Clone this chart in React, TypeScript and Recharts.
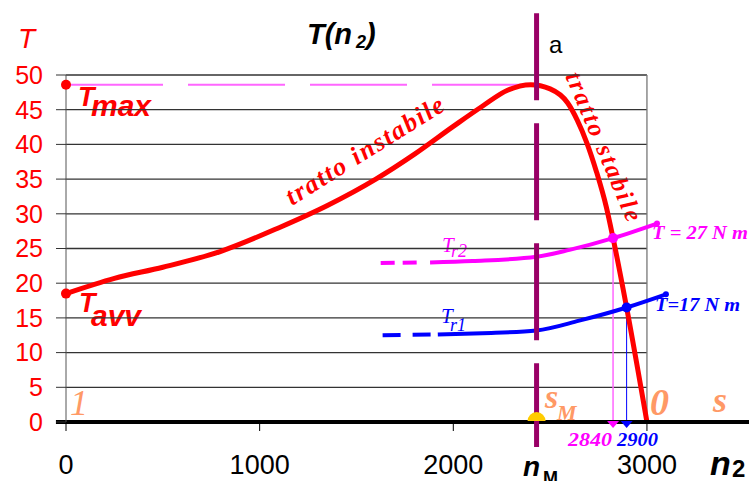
import React from "react";
import {
  ComposedChart,
  Line,
  XAxis,
  YAxis,
  ReferenceLine,
  ReferenceDot,
} from "recharts";

// torque curve T(n2)
const curveN = [0, 250, 500, 800, 1100, 1350, 1600, 1800, 2000, 2150, 2280, 2400, 2500, 2590, 2640, 2690, 2740, 2790, 2825, 2895, 3000];
const curveT = [18.5, 20.7, 22.3, 24.6, 28.0, 31.2, 35.0, 38.6, 42.6, 45.5, 47.8, 48.6, 48.0, 46.0, 43.5, 40.2, 36.0, 31.0, 26.5, 16.5, 0];

// load torque Tr2 (27 N m)
const tr2DashN = [1625, 1840];
const tr2DashT = [22.9, 23.0];
const tr2N = [1880, 2100, 2430, 2600, 2825, 3052];
const tr2T = [23.0, 23.2, 23.8, 24.8, 26.5, 28.6];

// load torque Tr1 (17 N m)
const tr1DashN = [1635, 1890];
const tr1DashT = [12.5, 12.6];
const tr1N = [1920, 2150, 2430, 2650, 2895, 3098];
const tr1T = [12.6, 12.8, 13.2, 14.6, 16.5, 18.4];

const xTicks = [0, 1000, 2000, 3000];
const yTicks = [0, 5, 10, 15, 20, 25, 30, 35, 40, 45, 50];
const gridValues = [5, 10, 15, 20, 25, 30, 35, 40, 45, 50];

const tMax = 48.6;
const tAvv = 18.5;
const nM = 2430;
const n2840 = 2825;
const n2900 = 2895;

const zip = (ns: number[], ts: number[]) => ns.map((n, i) => ({ n, t: ts[i] }));

const RED = "#ff0000";
const MAGENTA = "#ff00ff";
const LIGHT_MAGENTA = "#ff66ff";
const BLUE = "#0000ff";
const PURPLE = "#990066";
const ORANGE = "#ff9966";
const SANS = "'Liberation Sans', Arial, sans-serif";
const SERIF = "'Liberation Serif', 'Times New Roman', serif";

const halfDisc = (p: any) => (
  <path d={`M${p.cx - 9},${p.cy - 1} A9 9 0 0 1 ${p.cx + 9},${p.cy - 1} Z`} fill="#ffcc00" />
);
const downTriangle = (color: string) => (p: any) => (
  <path d={`M${p.cx - 6},${p.cy - 1} L${p.cx + 6},${p.cy - 1} L${p.cx},${p.cy + 6} Z`} fill={color} />
);

export default function App() {
  return (
    <div style={{ position: "fixed", left: 0, top: 0, width: 749, height: 481, background: "#fff" }}>
      <ComposedChart width={749} height={481} margin={{ top: 75, right: 0, bottom: 0, left: 0 }}>
        <XAxis
          type="number"
          dataKey="n"
          domain={[0, 3527]}
          ticks={xTicks}
          interval={0}
          allowDataOverflow
          axisLine={false}
          tickSize={9}
          tickMargin={24}
          tickLine={{ stroke: "#000" }}
          height={59}
          tick={{ fill: "#000", fontSize: 27, fontFamily: SANS }}
        />
        <YAxis
          type="number"
          domain={[0, 50]}
          ticks={yTicks}
          interval={0}
          width={66}
          tickSize={10}
          tickMargin={13}
          axisLine={{ stroke: "#555" }}
          tickLine={{ stroke: "#333" }}
          tick={{ fill: RED, fontSize: 25, fontFamily: SANS }}
        />
        {gridValues.map((v) => (
          <ReferenceLine
            key={v}
            segment={[{ x: 0, y: v }, { x: 3000, y: v }]}
            stroke="#333"
            strokeWidth={1.3}
            ifOverflow="visible"
          />
        ))}
        <ReferenceLine segment={[{ x: 3000, y: 0 }, { x: 3000, y: 50 }]} stroke="#777" strokeWidth={1.3} ifOverflow="visible" />
        <ReferenceLine
          segment={[{ x: 0, y: tMax }, { x: 2400, y: tMax }]}
          stroke={LIGHT_MAGENTA}
          strokeWidth={2}
          strokeDasharray="97 25"
          ifOverflow="visible"
        />
        <ReferenceLine segment={[{ x: n2840, y: 0 }, { x: n2840, y: 26.5 }]} stroke={LIGHT_MAGENTA} strokeWidth={1.5} ifOverflow="visible" />
        <ReferenceLine segment={[{ x: n2900, y: 0 }, { x: n2900, y: 16.5 }]} stroke={BLUE} strokeWidth={1} ifOverflow="visible" />

        <Line data={zip(tr2DashN, tr2DashT)} dataKey="t" type="linear" stroke={MAGENTA} strokeWidth={4} strokeDasharray="14 8" dot={false} isAnimationActive={false} />
        <Line data={zip(tr2N, tr2T)} dataKey="t" type="monotone" stroke={MAGENTA} strokeWidth={4} dot={false} isAnimationActive={false} />
        <Line data={zip(tr1DashN, tr1DashT)} dataKey="t" type="linear" stroke={BLUE} strokeWidth={4} strokeDasharray="18 12" dot={false} isAnimationActive={false} />
        <Line data={zip(tr1N, tr1T)} dataKey="t" type="monotone" stroke={BLUE} strokeWidth={4} dot={false} isAnimationActive={false} />
        <Line data={zip(curveN, curveT)} dataKey="t" type="monotone" stroke={RED} strokeWidth={5} dot={false} isAnimationActive={false} />

        <ReferenceLine segment={[{ x: -52, y: 0 }, { x: 3527, y: 0 }]} stroke="#000" strokeWidth={4} ifOverflow="visible" />
        <ReferenceLine
          segment={[{ x: nM, y: 58.9 }, { x: nM, y: -3.6 }]}
          stroke={PURPLE}
          strokeWidth={5}
          strokeDasharray="97 23"
          strokeDashoffset={10}
          ifOverflow="visible"
        />
        <ReferenceDot x={nM} y={0} r={9} shape={halfDisc} ifOverflow="visible" />
        <ReferenceDot x={n2840} y={0} r={6} shape={downTriangle(MAGENTA)} ifOverflow="visible" />
        <ReferenceDot x={n2900} y={0} r={6} shape={downTriangle(BLUE)} ifOverflow="visible" />
        <ReferenceDot x={0} y={tMax} r={5} fill={RED} stroke="none" ifOverflow="visible" />
        <ReferenceDot x={0} y={tAvv} r={5} fill={RED} stroke="none" ifOverflow="visible" />
        <ReferenceDot x={n2840} y={26.5} r={5} fill={MAGENTA} stroke="none" ifOverflow="visible" />
        <ReferenceDot x={n2900} y={16.5} r={5} fill={BLUE} stroke="none" ifOverflow="visible" />
        <ReferenceDot x={3052} y={28.6} r={3} fill={MAGENTA} stroke="none" ifOverflow="visible" />
        <ReferenceDot x={3098} y={18.4} r={3} fill={BLUE} stroke="none" ifOverflow="visible" />

        {/* titles and annotations */}
        <text x={18} y={48} fill={RED} fontSize={28} fontStyle="italic" fontFamily={SANS}>T</text>
        <text x={307} y={44} fill="#000" fontSize={29} fontStyle="italic" fontWeight="bold" fontFamily={SANS}>
          T(n<tspan fontSize={18} dx={4} dy={4}>2</tspan><tspan dy={-4}>)</tspan>
        </text>
        <text x={549} y={53} fill="#000" fontSize={24} fontFamily={SANS}>a</text>

        <text fill={RED} fontStyle="italic" fontWeight="bold" fontFamily={SANS}>
          <tspan x={78} y={106} fontSize={27}>T</tspan>
          <tspan x={91} y={116} fontSize={30}>max</tspan>
        </text>
        <text fill={RED} fontStyle="italic" fontWeight="bold" fontFamily={SANS}>
          <tspan x={79} y={312} fontSize={27}>T</tspan>
          <tspan x={91} y={326} fontSize={30}>avv</tspan>
        </text>

        <text x={292} y={206} transform="rotate(-32 292 206)" fill={RED} fontSize={26} fontStyle="italic" fontWeight="bold" fontFamily={SERIF} textLength={182} lengthAdjust="spacing">
          tratto  instabile
        </text>
        <text x={565} y={76} transform="rotate(67 565 76)" fill={RED} fontSize={25} fontStyle="italic" fontWeight="bold" fontFamily={SERIF} textLength={160} lengthAdjust="spacing">
          tratto  stabile
        </text>

        <text fill={MAGENTA} fontStyle="italic" fontFamily={SERIF}>
          <tspan x={442} y={252} fontSize={21}>T</tspan>
          <tspan x={451} y={257} fontSize={18}>r2</tspan>
        </text>
        <text fill={BLUE} fontStyle="italic" fontFamily={SERIF}>
          <tspan x={441} y={323} fontSize={21}>T</tspan>
          <tspan x={450} y={331} fontSize={18}>r1</tspan>
        </text>
        <text x={652} y={239} fill={MAGENTA} fontSize={19} fontStyle="italic" fontWeight="bold" fontFamily={SERIF} textLength={96} lengthAdjust="spacingAndGlyphs">
          T = 27 N m
        </text>
        <text x={655} y={311} fill={BLUE} fontSize={19} fontStyle="italic" fontWeight="bold" fontFamily={SERIF} textLength={85} lengthAdjust="spacingAndGlyphs">
          T=17 N m
        </text>

        <text x={568} y={446} fill={MAGENTA} fontSize={18} fontStyle="italic" fontWeight="bold" fontFamily={SERIF} textLength={44} lengthAdjust="spacingAndGlyphs">2840</text>
        <text x={617} y={446} fill={BLUE} fontSize={18} fontStyle="italic" fontWeight="bold" fontFamily={SERIF} textLength={41} lengthAdjust="spacingAndGlyphs">2900</text>

        <text x={70} y={415} fill={ORANGE} fontSize={36} fontStyle="italic" fontFamily={SERIF}>1</text>
        <text fill={ORANGE} fontStyle="italic" fontWeight="bold" fontFamily={SERIF}>
          <tspan x={545} y={408} fontSize={34}>s</tspan>
          <tspan x={557} y={420} fontSize={22}>M</tspan>
        </text>
        <text x={650} y={415} fill={ORANGE} fontSize={38} fontStyle="italic" fontWeight="bold" fontFamily={SERIF}>0</text>
        <text x={713} y={412} fill={ORANGE} fontSize={36} fontStyle="italic" fontWeight="bold" fontFamily={SERIF}>s</text>

        <text fill="#000" fontWeight="bold" fontFamily={SANS}>
          <tspan x={523} y={476} fontSize={28} fontStyle="italic">n</tspan>
          <tspan x={543} y={484} fontSize={18}>M</tspan>
        </text>
        <text fill="#000" fontWeight="bold" fontFamily={SANS}>
          <tspan x={710} y={475} fontSize={34} fontStyle="italic">n</tspan>
          <tspan x={732} y={477} fontSize={24}>2</tspan>
        </text>
      </ComposedChart>
    </div>
  );
}
